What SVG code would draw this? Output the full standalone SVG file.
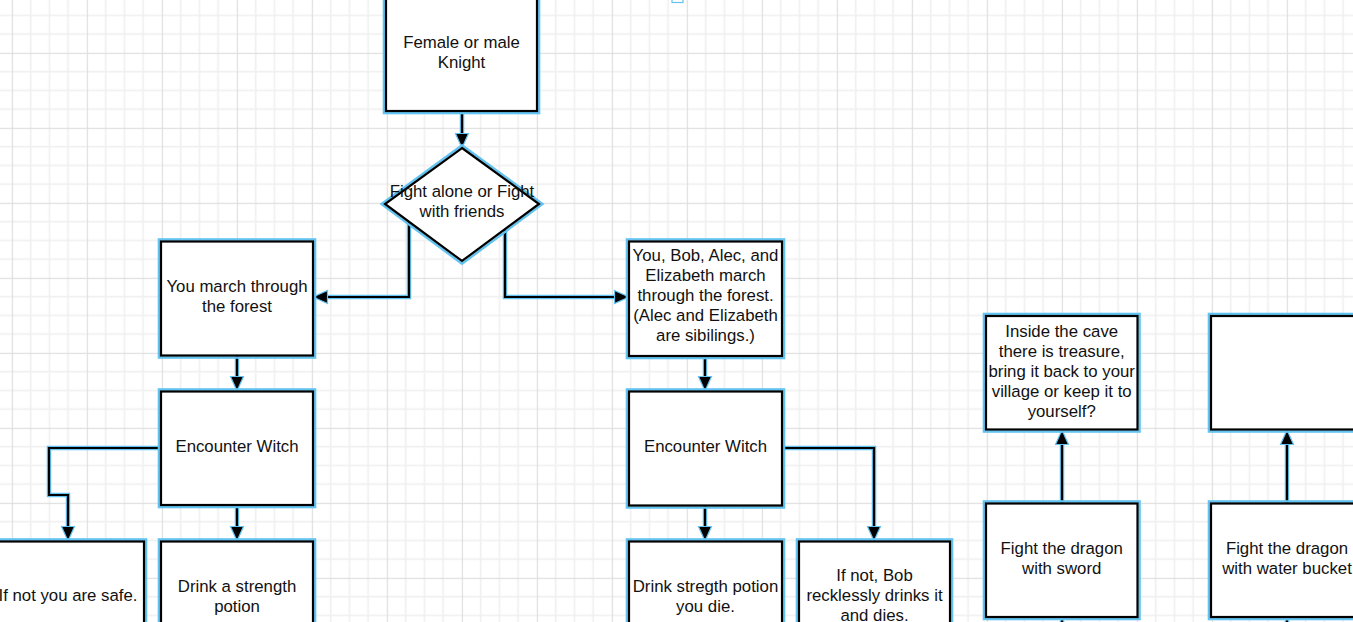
<svg xmlns="http://www.w3.org/2000/svg" width="1353" height="622" viewBox="0 0 1353 622">
<defs>
<pattern id="grid" patternUnits="userSpaceOnUse" x="11.8" y="52.8" width="75" height="75">
<rect x="0" y="0" width="75" height="75" fill="#ffffff"/>
<g fill="#f0f0f0">
<rect x="18" y="0" width="1.6" height="75"/>
<rect x="36.8" y="0" width="1.6" height="75"/>
<rect x="55.5" y="0" width="1.6" height="75"/>
<rect x="0" y="18" width="75" height="1.6"/>
<rect x="0" y="36.8" width="75" height="1.6"/>
<rect x="0" y="55.5" width="75" height="1.6"/>
</g>
<g fill="#dddddd">
<rect x="0" y="0" width="1.1" height="75"/>
<rect x="0" y="0" width="75" height="1.1"/>
</g>
</pattern>
<marker id="arr" viewBox="0 0 17 16" refX="16" refY="8" markerWidth="17" markerHeight="16" markerUnits="userSpaceOnUse" orient="auto">
<path d="M1.5,1.5 L16,8 L1.5,14.5 Z" fill="#000000" stroke="#62c3f0" stroke-width="1.2"/>
</marker>
<style>
.halo{fill:none;stroke:#62c3f0;stroke-width:4.5}
.box{fill:#ffffff;stroke:#000000;stroke-width:2.2}
.glow{fill:none;stroke:#62c3f0;stroke-width:2.6}
.edge{fill:none;stroke:#000000;stroke-width:2.2}
.t{font-family:"Liberation Sans",Arial,sans-serif;font-size:16.8px;fill:#111111;text-anchor:middle}
</style>
</defs>
<rect x="0" y="0" width="1353" height="622" fill="url(#grid)"/>
<rect x="672" y="-6" width="11" height="8.5" fill="#ffffff" stroke="#62c3f0" stroke-width="1.2"/>

<g id="connectors">
<g class="halo-layer">
<path class="halo" d="M462,111 V140"/>
<path class="halo" d="M409,222 V297 H320"/>
<path class="halo" d="M505,229 V297 H622"/>
<path class="halo" d="M237,355 V384"/>
<path class="halo" d="M705,356 V384"/>
<path class="halo" d="M161,448 H49 V495 H68 V534"/>
<path class="halo" d="M237,505 V534"/>
<path class="halo" d="M705,505 V534"/>
<path class="halo" d="M782,448 H874 V534"/>
<path class="halo" d="M1062,503 V437"/>
<path class="halo" d="M1287,503 V437"/>
</g>
<path class="edge" marker-end="url(#arr)" d="M462,111 V148"/>
<path class="edge" marker-end="url(#arr)" d="M409,222 V297 H313"/>
<path class="edge" marker-end="url(#arr)" d="M505,229 V297 H629"/>
<path class="edge" marker-end="url(#arr)" d="M237,355 V391"/>
<path class="edge" marker-end="url(#arr)" d="M705,356 V391"/>
<path class="edge" marker-end="url(#arr)" d="M161,448 H49 V495 H68 V541"/>
<path class="edge" marker-end="url(#arr)" d="M237,505 V541"/>
<path class="edge" marker-end="url(#arr)" d="M705,505 V541"/>
<path class="edge" marker-end="url(#arr)" d="M782,448 H874 V541"/>
<path class="edge" marker-end="url(#arr)" d="M1062,503 V430"/>
<path class="edge" marker-end="url(#arr)" d="M1287,503 V430"/>
<path class="edge" marker-end="url(#arr)" d="M1062,650 V617.5"/>
<path class="edge" marker-end="url(#arr)" d="M1287,650 V617.5"/>
</g>

<g id="knight">
<rect class="glow" x="384" y="-9" width="155" height="122"/>
<rect class="box" x="386" y="-7" width="151" height="118"/>
<text class="t" x="461.5" y="48">Female or male</text>
<text class="t" x="461.5" y="68">Knight</text>
</g>

<g id="decision">
<polygon points="462,145.3 542.5,204 462,263.8 381.5,204" fill="none" stroke="#62c3f0" stroke-width="2.4"/>
<polygon class="box" points="462,148 539,204 462,261 385,204"/>
<text class="t" x="462" y="197">Fight alone or Fight</text>
<text class="t" x="462" y="217">with friends</text>
</g>

<g id="march-alone">
<rect class="glow" x="159" y="239.5" width="156" height="118"/>
<rect class="box" x="161" y="241.5" width="152" height="114"/>
<text class="t" x="237" y="292">You march through</text>
<text class="t" x="237" y="312">the forest</text>
</g>

<g id="march-friends">
<rect class="glow" x="627" y="239.5" width="157" height="118.5"/>
<rect class="box" x="629" y="241.5" width="153" height="114.5"/>
<text class="t" x="705.5" y="261">You, Bob, Alec, and</text>
<text class="t" x="705.5" y="281">Elizabeth march</text>
<text class="t" x="705.5" y="301">through the forest.</text>
<text class="t" x="705.5" y="321">(Alec and Elizabeth</text>
<text class="t" x="705.5" y="341">are sibilings.)</text>
</g>

<g id="witch-alone">
<rect class="glow" x="159" y="389.5" width="156" height="117.5"/>
<rect class="box" x="161" y="391.5" width="152" height="113.5"/>
<text class="t" x="237" y="452">Encounter Witch</text>
</g>

<g id="witch-friends">
<rect class="glow" x="627" y="389.5" width="157" height="118"/>
<rect class="box" x="629" y="391.5" width="153" height="114"/>
<text class="t" x="705.5" y="452">Encounter Witch</text>
</g>

<g id="safe">
<rect class="glow" x="-10" y="539.5" width="156" height="118"/>
<rect class="box" x="-8" y="541.5" width="152" height="114"/>
<text class="t" x="68" y="601">If not you are safe.</text>
</g>

<g id="drink-alone">
<rect class="glow" x="159" y="539.5" width="156" height="118"/>
<rect class="box" x="161" y="541.5" width="152" height="114"/>
<text class="t" x="237" y="592">Drink a strength</text>
<text class="t" x="237" y="612">potion</text>
</g>

<g id="drink-friends">
<rect class="glow" x="627" y="539.5" width="157" height="118"/>
<rect class="box" x="629" y="541.5" width="153" height="114"/>
<text class="t" x="705.5" y="592">Drink stregth potion</text>
<text class="t" x="705.5" y="612">you die.</text>
</g>

<g id="bob-dies">
<rect class="glow" x="797" y="539.5" width="155" height="118"/>
<rect class="box" x="799" y="541.5" width="151" height="114"/>
<text class="t" x="874.5" y="581">If not, Bob</text>
<text class="t" x="874.5" y="601">recklessly drinks it</text>
<text class="t" x="874.5" y="621">and dies.</text>
</g>

<g id="treasure">
<rect class="glow" x="984" y="314" width="155.5" height="117.5"/>
<rect class="box" x="986" y="316" width="151.5" height="113.5"/>
<text class="t" x="1061.7" y="337">Inside the cave</text>
<text class="t" x="1061.7" y="357">there is treasure,</text>
<text class="t" x="1061.7" y="377">bring it back to your</text>
<text class="t" x="1061.7" y="397">village or keep it to</text>
<text class="t" x="1061.7" y="417">yourself?</text>
</g>

<g id="empty-box">
<rect class="glow" x="1209" y="314" width="156" height="117.5"/>
<rect class="box" x="1211" y="316" width="152" height="113.5"/>
</g>

<g id="sword">
<rect class="glow" x="984" y="501.5" width="155.5" height="117.5"/>
<rect class="box" x="986" y="503.5" width="151.5" height="113.5"/>
<text class="t" x="1061.7" y="554">Fight the dragon</text>
<text class="t" x="1061.7" y="574">with sword</text>
</g>

<g id="bucket">
<rect class="glow" x="1209" y="501.5" width="156" height="117.5"/>
<rect class="box" x="1211" y="503.5" width="152" height="113.5"/>
<text class="t" x="1287" y="554">Fight the dragon</text>
<text class="t" x="1287" y="574">with water bucket</text>
</g>
</svg>
